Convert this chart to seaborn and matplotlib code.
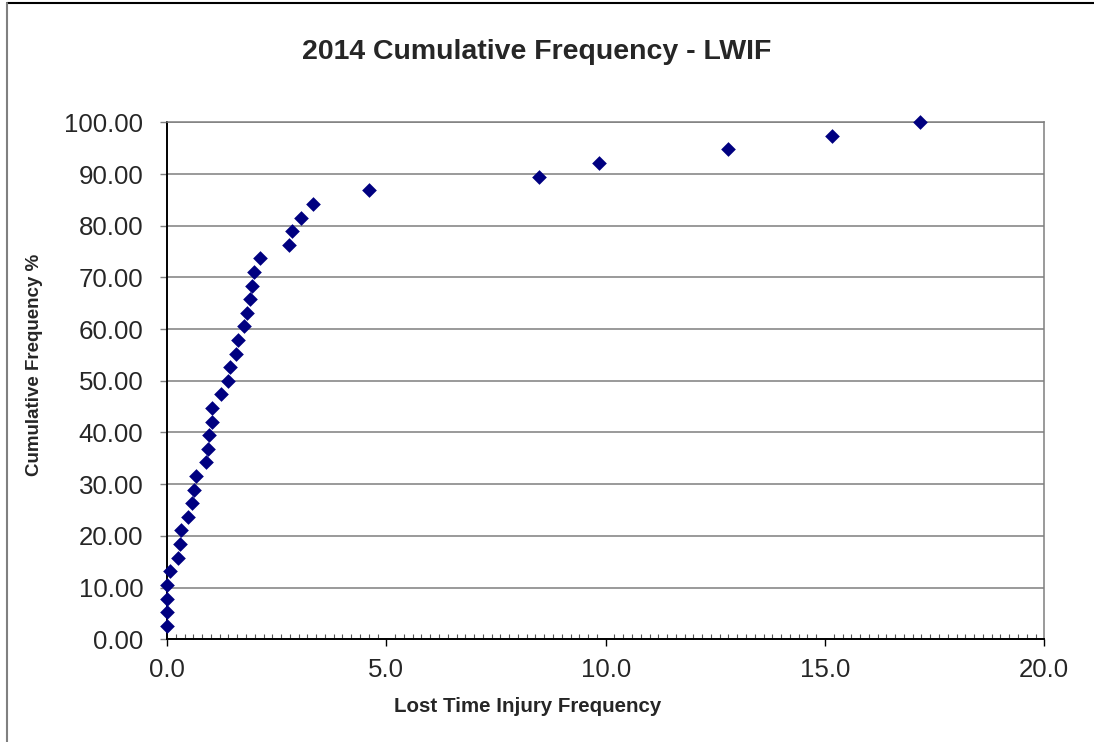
import matplotlib
matplotlib.use("Agg")
import matplotlib.pyplot as plt
from matplotlib.lines import Line2D
from matplotlib.ticker import MultipleLocator, FormatStrFormatter
import numpy as np
import pandas as pd
import seaborn as sns

# Lost time injury frequency per site, sorted, with cumulative share of sites
lwif = [0.0, 0.0, 0.0, 0.0, 0.07, 0.26, 0.29, 0.32, 0.49, 0.58,
        0.62, 0.67, 0.89, 0.93, 0.96, 1.03, 1.03, 1.22, 1.38, 1.44,
        1.58, 1.63, 1.76, 1.83, 1.89, 1.94, 1.98, 2.11, 2.79, 2.85,
        3.05, 3.33, 4.60, 8.47, 9.85, 12.80, 15.17, 17.16]
cum_pct = [2.63, 5.26, 7.89, 10.53, 13.16, 15.79, 18.42, 21.05, 23.68, 26.32,
           28.95, 31.58, 34.21, 36.84, 39.47, 42.11, 44.74, 47.37, 50.00, 52.63,
           55.26, 57.89, 60.53, 63.16, 65.79, 68.42, 71.05, 73.68, 76.32, 78.95,
           81.58, 84.21, 86.84, 89.47, 92.11, 94.74, 97.37, 100.00]

title = "2014 Cumulative Frequency - LWIF"
xlabel = "Lost Time Injury Frequency"
ylabel = "Cumulative Frequency %"

df = pd.DataFrame({"lwif": lwif, "cum": cum_pct})

sns.set_style("white")
plt.rcParams["font.family"] = ["Liberation Sans", "DejaVu Sans"]

W, H = 1094, 742
fig = plt.figure(figsize=(W / 100, H / 100), dpi=100)
ax = fig.add_axes([167 / W, 1 - 639.3 / H, (1044.3 - 167) / W, (639.3 - 122.3) / H])

sns.scatterplot(data=df, x="lwif", y="cum", ax=ax, marker="D", s=56,
                color="#000080", linewidth=0, zorder=5, clip_on=False)

ax.set_xlim(0, 20)
ax.set_ylim(0, 100)
ax.xaxis.set_major_locator(MultipleLocator(5))
ax.xaxis.set_minor_locator(MultipleLocator(0.2))
ax.yaxis.set_major_locator(MultipleLocator(10))
ax.xaxis.set_major_formatter(FormatStrFormatter("%.1f"))
ax.yaxis.set_major_formatter(FormatStrFormatter("%.2f"))

ax.grid(axis="y", color="#7f7f7f", linewidth=1.1)
ax.set_axisbelow(True)

for side in ("left", "bottom"):
    ax.spines[side].set_color("black")
    ax.spines[side].set_linewidth(1.4)
for side in ("top", "right"):
    ax.spines[side].set_color("#7f7f7f")
    ax.spines[side].set_linewidth(1.1)

ax.tick_params(axis="y", which="major", direction="out", length=5, width=1,
               color="#7f7f7f", labelsize=18.6, pad=12, left=True)
ax.tick_params(axis="x", which="major", direction="out", length=5, width=1,
               color="black", labelsize=18.6, pad=8.5, bottom=True)
ax.tick_params(axis="x", which="minor", direction="in", length=3.5, width=0.8,
               color="#555555", bottom=True)

ax.set_xlabel("")
ax.set_ylabel("")

fig.text(537 / W, 1 - 52 / H, title, ha="center", va="center",
         fontsize=20.5, fontweight="bold")
fig.text(528 / W, 1 - 706 / H, xlabel, ha="center", va="center",
         fontsize=14.8, fontweight="bold")
fig.text(35 / W, 1 - 365 / H, ylabel, ha="center", va="center",
         rotation=90, fontsize=13.5, fontweight="bold")

# chart frame edges
fig.add_artist(Line2D([7 / W, 1], [1 - 3 / H, 1 - 3 / H],
                      transform=fig.transFigure, color="black", linewidth=1.5))
fig.add_artist(Line2D([7 / W, 7 / W], [0, 1 - 3 / H],
                      transform=fig.transFigure, color="#808080", linewidth=1.5))

fig.savefig("out.png", dpi=100)
